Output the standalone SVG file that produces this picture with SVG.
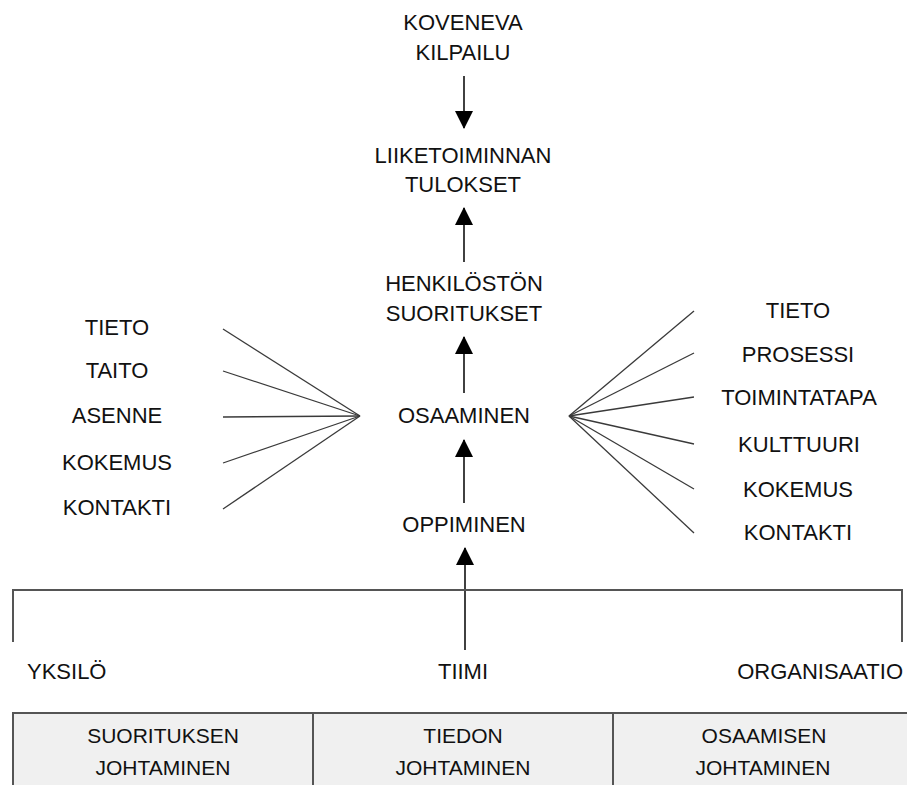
<svg xmlns="http://www.w3.org/2000/svg" width="907" height="785" viewBox="0 0 907 785">
  <style>
    text { font-family: "Liberation Sans", Arial, sans-serif; font-size: 22px; fill: #111; text-anchor: middle; }
    .sm { font-size: 21px; }
    .arrow { stroke: #111; stroke-width: 1.6; fill: none; }
    .fan { stroke: #3a3a3a; stroke-width: 1.3; fill: none; }
    .frame { stroke: #555; stroke-width: 2; fill: none; }
    .cell { fill: #f0f0f0; stroke: #555; stroke-width: 2; }
  </style>
  <defs>
    <marker id="head" viewBox="0 0 18 18" refX="17" refY="9" markerWidth="18" markerHeight="18" markerUnits="userSpaceOnUse" orient="auto">
      <path d="M0,0 L18,9 L0,18 Z" fill="#000"/>
    </marker>
  </defs>
  <rect width="907" height="785" fill="#fff"/>

  <!-- bottom management table -->
  <g id="table">
    <rect class="cell" x="13" y="713" width="910" height="90"/>
    <line class="frame" x1="313" y1="713" x2="313" y2="785"/>
    <line class="frame" x1="613" y1="713" x2="613" y2="785"/>
  </g>

  <!-- connectors -->
  <g id="connectors">
    <line class="arrow" x1="464" y1="76" x2="464" y2="128" marker-end="url(#head)"/>
    <line class="arrow" x1="464" y1="262" x2="464" y2="208" marker-end="url(#head)"/>
    <line class="arrow" x1="464" y1="393" x2="464" y2="337" marker-end="url(#head)"/>
    <line class="arrow" x1="464" y1="503" x2="464" y2="440" marker-end="url(#head)"/>
    <line class="arrow" x1="465" y1="650" x2="465" y2="548" marker-end="url(#head)"/>
    <!-- bracket over the three levels -->
    <polyline class="frame" points="13,642 13,590 902,590 902,642"/>
    <!-- left fan -->
    <line class="fan" x1="223" y1="329" x2="360" y2="416"/>
    <line class="fan" x1="223" y1="371" x2="360" y2="416"/>
    <line class="fan" x1="223" y1="417" x2="360" y2="416"/>
    <line class="fan" x1="223" y1="463" x2="360" y2="416"/>
    <line class="fan" x1="223" y1="509" x2="360" y2="416"/>
    <!-- right fan -->
    <line class="fan" x1="569" y1="416" x2="694" y2="311"/>
    <line class="fan" x1="569" y1="416" x2="694" y2="353"/>
    <line class="fan" x1="569" y1="416" x2="694" y2="397"/>
    <line class="fan" x1="569" y1="416" x2="694" y2="444"/>
    <line class="fan" x1="569" y1="416" x2="694" y2="489"/>
    <line class="fan" x1="569" y1="416" x2="694" y2="533"/>
  </g>

  <!-- central chain -->
  <g id="kilpailu"><text x="463" y="30">KOVENEVA</text><text x="463" y="60">KILPAILU</text></g>
  <g id="tulokset"><text x="463" y="163">LIIKETOIMINNAN</text><text x="463" y="192">TULOKSET</text></g>
  <g id="suoritukset"><text x="464" y="291">HENKILÖSTÖN</text><text x="464" y="321">SUORITUKSET</text></g>
  <g id="osaaminen"><text x="464" y="423">OSAAMINEN</text></g>
  <g id="oppiminen"><text x="464" y="532">OPPIMINEN</text></g>

  <!-- individual competence -->
  <g id="yksilo-tekijat">
    <text x="117" y="335">TIETO</text>
    <text x="117" y="378">TAITO</text>
    <text x="117" y="423">ASENNE</text>
    <text x="117" y="470">KOKEMUS</text>
    <text x="117" y="515">KONTAKTI</text>
  </g>

  <!-- organisational competence -->
  <g id="organisaatio-tekijat">
    <text x="798" y="318">TIETO</text>
    <text x="798" y="362">PROSESSI</text>
    <text x="799" y="405">TOIMINTATAPA</text>
    <text x="799" y="452">KULTTUURI</text>
    <text x="798" y="497">KOKEMUS</text>
    <text x="798" y="540">KONTAKTI</text>
  </g>

  <!-- levels -->
  <g id="tasot">
    <text x="27" y="679" style="text-anchor:start">YKSILÖ</text>
    <text x="463" y="679">TIIMI</text>
    <text x="903" y="679" style="text-anchor:end">ORGANISAATIO</text>
  </g>

  <g id="suorituksen-johtaminen"><text class="sm" x="163" y="743">SUORITUKSEN</text><text class="sm" x="163" y="775">JOHTAMINEN</text></g>
  <g id="tiedon-johtaminen"><text class="sm" x="463" y="743">TIEDON</text><text class="sm" x="463" y="775">JOHTAMINEN</text></g>
  <g id="osaamisen-johtaminen"><text class="sm" x="764" y="743">OSAAMISEN</text><text class="sm" x="763" y="775">JOHTAMINEN</text></g>
</svg>
